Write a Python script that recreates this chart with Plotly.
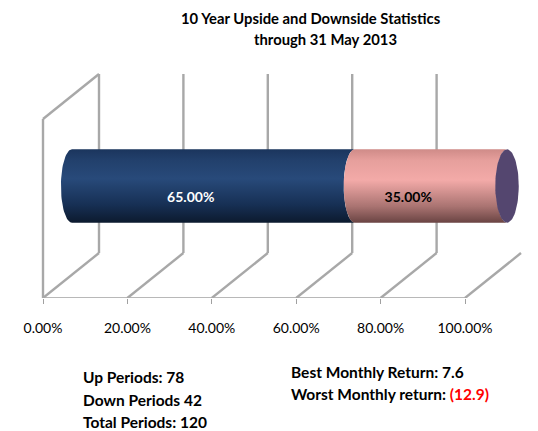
import numpy as np
import plotly.graph_objects as go

# ---- data ----
categories = ["Up", "Down"]
shares = [65.0, 35.0]
share_labels = ["65.00%", "35.00%"]
tick_values = [0, 20, 40, 60, 80, 100]
tick_labels = ["0.00%", "20.00%", "40.00%", "60.00%", "80.00%", "100.00%"]
title_lines = ["10 Year Upside and Downside Statistics", "through 31 May 2013"]
period_lines = ["Up Periods: 78", "Down Periods 42", "Total Periods: 120"]
best_return = "7.6"
worst_return = "(12.9)"

FONT = "Lato"
W, H = 538, 431
L, R, T, B = 10, 8, 60, 133
X0PX, UNIT = 43.0, 4.22          # front plane: 0% pixel and px per %
BX0PX, BUNIT = 72.0, 4.35        # bar plane
FRONT_Y = H - B                  # 298
PW, PH = W - L - R, H - T - B

def xr(px0, unit):
    return [(L - px0) / unit, (W - R - px0) / unit]

def dy(py):
    return FRONT_Y - py

def px_(px):
    return (px - L) / PW

def py_(py):
    return (FRONT_Y - py) / PH

depth_x = 56 / UNIT
depth_y = 45
wall_h = 179

fig = go.Figure()

# ---- 3D walls (gridlines) ----
gray = "#a8a8a8"
shapes = []
def seg(x0, y0, x1, y1, w=2.4, c=gray):
    shapes.append(dict(type="line", xref="x", yref="y", x0=x0, y0=y0, x1=x1, y1=y1,
                       line=dict(color=c, width=w), layer="below"))

seg(tick_values[0], 0, tick_values[-1], 0, w=1.3, c="#a0a0a0")
for v in tick_values:
    seg(v, 0, v + depth_x, depth_y)
for v in tick_values[:-1]:
    seg(v + depth_x, depth_y, v + depth_x, depth_y + wall_h)
seg(0, 0, 0, wall_h)
seg(0, wall_h, depth_x, depth_y + wall_h)

# ---- cylinder ----
yc = dy(186)
hh = 36.7
rx = 2.55
th = np.linspace(0, np.pi, 40)
blue_cs = [[0, "#0c1a2e"], [0.25, "#173055"], [0.6, "#284a7a"], [0.85, "#22406c"], [1, "#1b355d"]]
pink_cs = [[0, "#6a4443"], [0.22, "#a97371"], [0.58, "#f3aaa8"], [0.85, "#e69f9c"], [1, "#cf8b88"]]
scales = [blue_cs, pink_cs]
base = 0.0
bases = []
for v, cs in zip(shares, scales):
    bases.append(base)
    xl = base - rx * np.sin(th)
    yl = yc + hh * np.cos(th)
    xrr = base + v - rx * np.sin(th)
    yrr = yc - hh * np.cos(th)
    xs = np.concatenate([xl, xrr, xl[:1]])
    ys = np.concatenate([yl, yrr, yl[:1]])
    fig.add_trace(go.Scatter(x=xs, y=ys, xaxis="x2", yaxis="y", mode="lines", fill="toself",
                             line=dict(width=0), fillgradient=dict(type="vertical", colorscale=cs),
                             hoverinfo="skip", showlegend=False))
    base += v

t = np.linspace(0, 2 * np.pi, 80)
fig.add_trace(go.Scatter(x=base + 2.7 * np.cos(t), y=yc + hh * np.sin(t), xaxis="x2", mode="lines",
                         fill="toself", fillcolor="#54466f", line=dict(width=0),
                         hoverinfo="skip", showlegend=False))

fig.add_trace(go.Scatter(
    x=[b + v / 2 - 5.2 for b, v in zip(bases, shares)], y=[dy(198)] * 2, xaxis="x2",
    mode="text", text=[f"<b>{s}</b>" for s in share_labels],
    textfont=dict(family=FONT, size=14, color=["#ffffff", "#000000"]),
    hoverinfo="skip", showlegend=False))

# ---- annotations ----
ann = []
def add(text, x, y, anchor="center", size=15.5):
    ann.append(dict(text=text, x=px_(x), y=py_(y), xref="paper", yref="paper",
                    xanchor=anchor, yanchor="middle", showarrow=False,
                    font=dict(family=FONT, size=size, color="#000")))

add(f"<b>{title_lines[0]}</b>", 311, 18, size=14.8)
add(f"<b>{title_lines[1]}</b>", 325, 39, size=14.8)
for i, s in enumerate(period_lines):
    add(f"<b>{s}</b>", 81, 377 + 22.5 * i, "left")
add(f"<b>Best Monthly Return: {best_return}</b>", 289, 372, "left")
add(f"<b>Worst Monthly return: <span style='color:#ff0000'>{worst_return}</span></b>", 289, 394, "left")

fig.update_layout(
    width=W, height=H, margin=dict(l=L, r=R, t=T, b=B),
    paper_bgcolor="white", plot_bgcolor="white",
    shapes=shapes, annotations=ann, showlegend=False,
    xaxis=dict(range=xr(X0PX, UNIT), tickvals=tick_values, ticktext=tick_labels,
               showgrid=False, zeroline=False, showline=False,
               ticks="outside", ticklen=5, tickcolor="#a0a0a0", tickwidth=1.3,
               ticklabelstandoff=12,
               tickfont=dict(family=FONT, size=14, color="#000")),
    xaxis2=dict(range=xr(BX0PX, BUNIT), overlaying="x", visible=False),
    yaxis=dict(range=[0, PH], visible=False),
)
fig.write_html("out.html", config={"displayModeBar": False},
               post_script="document.body.style.margin='0';document.body.style.padding='0';")
